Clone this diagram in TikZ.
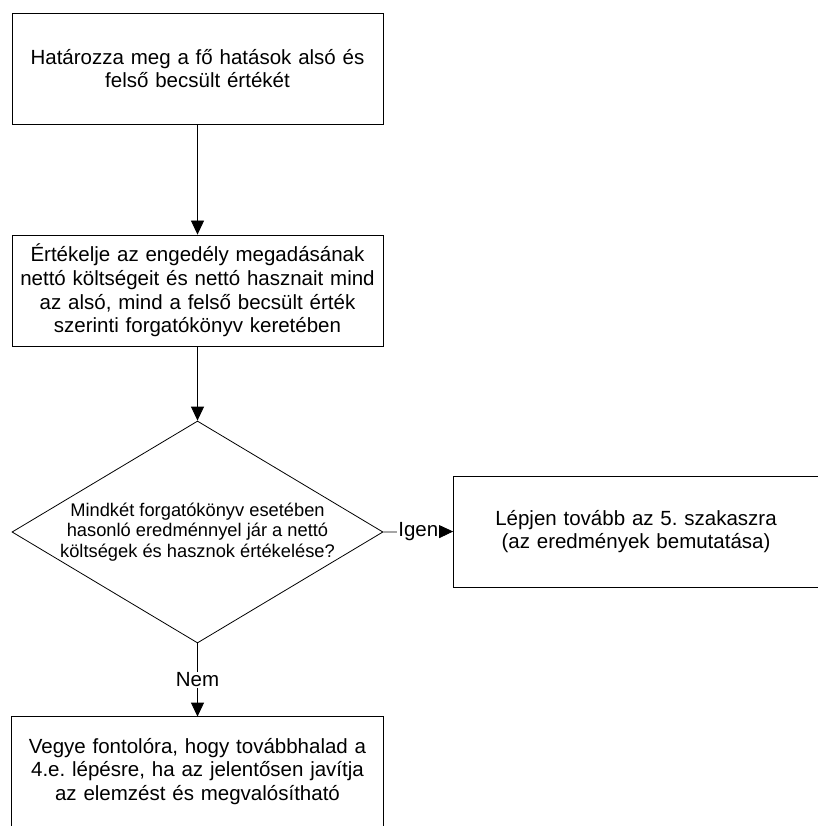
\documentclass[tikz,border=0pt]{standalone}
\usepackage{fontspec}
\setmainfont{Liberation Sans}
\usetikzlibrary{shapes.geometric,arrows.meta}
\frenchspacing

\begin{document}
\begin{tikzpicture}[x=1pt,y=-1pt,
  line width=0.8pt,
  stepbox/.style={draw=black, minimum width=371pt, minimum height=111pt,
    inner sep=0pt, text width=365pt, align=center,
    font=\fontsize{20.5}{23.8}\selectfont},
  openbox/.style={stepbox, draw=none, minimum height=109pt},
  decision/.style={diamond, draw=black, minimum width=371pt,
    minimum height=222pt, inner sep=0pt},
  dectext/.style={align=center, font=\fontsize{18.3}{20.7}\selectfont},
  flow/.style={-{Triangle[width=13pt,length=14pt]}},
  tag/.style={fill=white, inner sep=1pt, font=\fontsize{20.5}{23.8}\selectfont}]

\useasboundingbox (0,0) rectangle (817,826);

% process steps
\node[stepbox] (n1) at (197.5,68.5)
  {Határozza meg a fő hatások alsó és\\felső becsült értékét};
\node[stepbox] (n2) at (197.5,290.5)
  {Értékelje az engedély megadásának\\nettó költségeit és nettó hasznait mind\\az alsó, mind a felső becsült érték\\szerinti forgatókönyv keretében};

% decision
\node[decision] (dec) at (197.5,532) {};
\node[dectext] (dect) at (dec.center)
  {Mindkét forgatókönyv esetében\\hasonló eredménnyel jár a nettó\\költségek és hasznok értékelése?};

% outcomes
\node[stepbox, minimum width=358pt] (n4) at (636,531.5)
  {Lépjen tovább az 5. szakaszra\\(az eredmények bemutatása)};
\node[openbox] (n5) at (197.5,771.5)
  {Vegye fontolóra, hogy továbbhalad a\\4.e. lépésre, ha az jelentősen javítja\\az elemzést és megvalósítható};
\draw (n5.south west) -- (n5.north west) -- (n5.north east) -- (n5.south east);

% connectors
\draw[flow] (n1) -- (n2);
\draw[flow] (n2) -- (dec.north);
\draw[flow] (dec.east) -- node[tag] (yes) {Igen} (n4.west);
\draw[flow] (dec.south) -- node[tag] (no) {Nem} (n5.north);
\end{tikzpicture}
\end{document}
